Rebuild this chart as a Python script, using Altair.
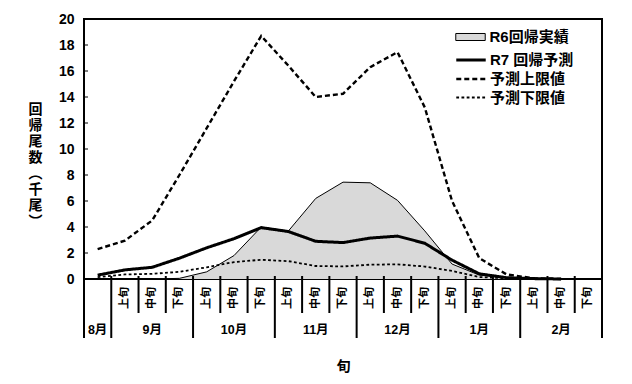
import altair as alt
import pandas as pd

FONT = "'Liberation Sans', 'Noto Sans CJK JP', sans-serif"
W, H = 518, 260

# --- categories ---
months = ["8月", "9月", "10月", "11月", "12月", "1月", "2月"]
thirds = ["上旬", "中旬", "下旬"]

# --- series values (千尾), slots: 8月, 9月上..2月中 ---
r6_actual = [0.0, 0.0, 0.0, 0.05, 0.55, 1.8, 4.0, 3.7, 6.2, 7.45, 7.4, 6.05, 3.7, 1.15, 0.3, 0.1, 0.05, 0.0]
r7_forecast = [0.3, 0.7, 0.9, 1.6, 2.4, 3.1, 3.95, 3.65, 2.9, 2.8, 3.15, 3.3, 2.75, 1.45, 0.4, 0.1, 0.03, 0.0]
upper_limit = [2.3, 2.95, 4.5, 8.0, 11.6, 15.2, 18.7, 16.4, 14.0, 14.25, 16.3, 17.45, 13.2, 6.0, 1.6, 0.35, 0.05, 0.0]
lower_limit = [0.15, 0.35, 0.4, 0.55, 0.9, 1.3, 1.48, 1.37, 1.0, 0.97, 1.1, 1.13, 0.96, 0.62, 0.15, 0.05, 0.02, 0.0]

y_ticks = list(range(0, 21, 2))

s_r6 = "R6回帰実績"
s_r7 = "R7 回帰予測"
s_up = "予測上限値"
s_lo = "予測下限値"

# slot structure: 8月 one slot, others three 旬
slots = [("8月", "")]
for m in months[1:]:
    for t in thirds:
        slots.append((m, t))
n_slots = len(slots)

# tables
area_df = pd.DataFrame({"x": [i + 0.5 for i in range(len(r6_actual))], "v": r6_actual, "s": s_r6})
line_rows = []
for name, vals in [(s_r7, r7_forecast), (s_up, upper_limit), (s_lo, lower_limit)]:
    for i, v in enumerate(vals):
        line_rows.append({"x": i + 0.5, "v": v, "s": name})
lines_df = pd.DataFrame(line_rows)

jun_df = pd.DataFrame([{"x": i + 0.5, "t": t} for i, (m, t) in enumerate(slots) if t])
month_rows = []
for m in months:
    idx = [i for i, (mm, _) in enumerate(slots) if mm == m]
    month_rows.append({"x": (idx[0] + idx[-1] + 1) / 2, "m": m})
month_df = pd.DataFrame(month_rows)

long_b = sorted(set([0] + [i for i in range(1, n_slots) if slots[i][0] != slots[i - 1][0]] + [n_slots]))
short_b = [b for b in range(n_slots + 1) if b not in long_b]
long_df = pd.DataFrame({"b": long_b})
short_df = pd.DataFrame({"b": short_b})
ticks_df = pd.DataFrame({"t": y_ticks})

xscale = alt.Scale(domain=[0, n_slots], nice=False, zero=False)
yscale = alt.Scale(domain=[0, 20], nice=False)

xaxis = alt.Axis(title="旬", labels=False, ticks=False, domain=False, grid=False,
                 titleFont=FONT, titleFontSize=14, titleFontWeight="bold", titleColor="black",
                 titleY=87, titleBaseline="middle")
yaxis = alt.Axis(title=list("回帰尾数︵千尾︶"), values=y_ticks, ticks=False, domain=False, grid=False,
                 labelPadding=10, labelFont=FONT, labelFontSize=14, labelFontWeight="bold", labelColor="black",
                 titleAngle=0, titleX=-49, titleY=90, titleAlign="center", titleBaseline="middle",
                 titleLineHeight=16, titleFont=FONT, titleFontSize=14, titleFontWeight="bold", titleColor="black")


def X(field):
    return alt.X(field, type="quantitative", scale=xscale, axis=xaxis)


def Y(field):
    return alt.Y(field, type="quantitative", scale=yscale, axis=yaxis)


legend_a = alt.Legend(title=None, orient="none", legendX=376.5, legendY=8, padding=0,
                      symbolType="M-1.55,-0.37H1.55V0.37H-1.55Z", symbolSize=361,
                      symbolStrokeColor="black", symbolStrokeWidth=1, labelOffset=9,
                      labelFont=FONT, labelFontSize=15, labelFontWeight="bold", labelColor="black",
                      labelLimit=300)
legend_b = alt.Legend(title=None, orient="none", legendX=376, legendY=30, padding=0, rowPadding=0,
                      symbolType="M-1.55,0H1.55", symbolSize=361,
                      symbolStrokeColor="black", labelOffset=8,
                      labelFont=FONT, labelFontSize=15, labelFontWeight="bold", labelColor="black",
                      labelLimit=300)

area = alt.Chart(area_df).mark_area(strokeWidth=0).encode(
    x=X("x"), y=Y("v"),
    fill=alt.Fill("s:N", scale=alt.Scale(domain=[s_r6], range=["#d9d9d9"]), legend=legend_a),
)
area_line = alt.Chart(area_df).mark_line(color="black", strokeWidth=1).encode(x=X("x"), y=Y("v"))

dash_scale = alt.Scale(domain=[s_r7, s_up, s_lo], range=[[1, 0], [5, 3], [2.8, 2.4]])
width_scale = alt.Scale(domain=[s_r7, s_up, s_lo], range=[3, 1.8, 3])
lines = alt.Chart(lines_df).mark_line(color="black").encode(
    x=X("x"), y=Y("v"),
    strokeDash=alt.StrokeDash("s:N", scale=dash_scale, legend=legend_b),
    strokeWidth=alt.StrokeWidth("s:N", scale=width_scale, legend=legend_b),
)

ytick_rules = alt.Chart(ticks_df).mark_rule(color="black", strokeWidth=1).encode(
    y=Y("t"), x=alt.value(0), x2=alt.value(4))

short_rules = alt.Chart(short_df).mark_rule(color="black", strokeWidth=2).encode(
    x=X("b"), y=alt.value(H - 3), y2=alt.value(H + 34))
long_rules = alt.Chart(long_df).mark_rule(color="black", strokeWidth=2).encode(
    x=X("b"), y=alt.value(H - 3), y2=alt.value(H + 59))

jun_text = alt.Chart(jun_df).mark_text(angle=270, align="center", baseline="middle",
                                       font=FONT, fontSize=11, fontWeight="bold", color="black").encode(
    x=X("x"), y=alt.value(H + 19), text="t:N")
month_text = alt.Chart(month_df).mark_text(align="center", baseline="middle",
                                           font=FONT, fontSize=12.5, fontWeight="bold", color="black").encode(
    x=X("x"), y=alt.value(H + 51), text="m:N")

chart = alt.layer(area, area_line, lines, ytick_rules, short_rules, long_rules, jun_text, month_text).properties(
    width=W, height=H,
    autosize=alt.AutoSizeParams(type="none"),
    padding={"left": 76, "top": 11, "right": 22, "bottom": 95},
    background="white",
).configure_view(stroke="black", strokeWidth=2)

chart.save("out.html", embed_options={"renderer": "svg", "actions": False})
